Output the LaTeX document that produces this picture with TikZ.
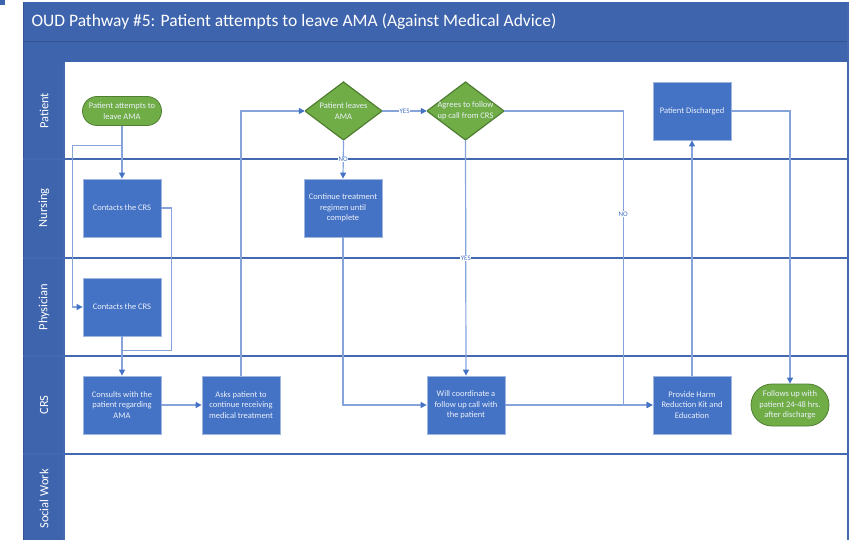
\documentclass[tikz,border=0pt]{standalone}
\usepackage{fontspec}
\setmainfont{Carlito}
\usetikzlibrary{arrows.meta,calc}

\definecolor{bandblue}{RGB}{62,100,173}
\definecolor{bandline}{RGB}{52,84,150}
\definecolor{laneline}{RGB}{68,105,176}
\definecolor{boxblue}{RGB}{68,114,196}
\definecolor{boxedge}{RGB}{160,182,222}
\definecolor{greenfill}{RGB}{112,173,71}
\definecolor{greenedge}{RGB}{80,126,50}
\definecolor{connblue}{RGB}{134,163,219}
\definecolor{tipblue}{RGB}{68,114,196}
\definecolor{boxtext}{RGB}{236,241,250}

\tikzset{
  boxtxt/.style={font=\fontsize{8.5}{10.6}\selectfont, text=boxtext, align=center},
  procbox/.style={boxtxt, draw=boxedge, line width=0.8pt, fill=boxblue,
    minimum width=78pt, minimum height=58pt, inner sep=1pt},
  termbox/.style={boxtxt, draw=greenedge, line width=0.8pt, fill=greenfill,
    rounded corners=#1, inner sep=1pt},
  decbox/.style={boxtxt, minimum width=77pt, minimum height=58pt, inner sep=0pt,
    path picture={
      \fill[greenfill] (path picture bounding box.north) -- (path picture bounding box.east)
        -- (path picture bounding box.south) -- (path picture bounding box.west) -- cycle;
      \draw[greenedge, line width=1.2pt] (path picture bounding box.north) -- (path picture bounding box.east)
        -- (path picture bounding box.south) -- (path picture bounding box.west) -- cycle;
    }},
  conn/.style={draw=connblue, line width=1.2pt,
    -{Triangle[length=6pt,width=6pt,color=tipblue]}},
  plainconn/.style={draw=connblue, line width=1.2pt},
  lbl/.style={font=\fontsize{7}{8}\selectfont, text=boxblue, fill=white, inner sep=0.6pt},
  lanename/.style={font=\fontsize{12.5}{13}\selectfont, text=white, rotate=90},
  laneedge/.style={draw=laneline, line width=1.4pt},
}

\begin{document}
\begin{tikzpicture}[x=1pt, y=-1pt]
\useasboundingbox (0,0) rectangle (854,540);

% small corner marker
\fill[bandblue] (0,0) rectangle (5,5);

% title band and sub band
\fill[bandblue] (23,2) rectangle (848,62);
\draw[bandline, line width=1pt] (23,42) -- (848,42);
\node[anchor=west, font=\fontsize{17.5}{20}\selectfont, text=white] (title) at (28,22)
  {OUD Pathway \#5: Patient attempts to leave AMA (Against Medical Advice)};

% lane header column
\fill[bandblue] (23,62) rectangle (64,540);

% lane frame
\draw[laneedge] (64,62) -- (64,540);
\draw[laneedge] (848,2) -- (848,540);
\draw[bandline, line width=1pt] (23,2) -- (23,540);
\foreach \yy in {159,258,356,454}
  \draw[laneedge] (23,\yy) -- (848,\yy);

% lane names
\node[lanename] (lanepat) at (44,111) {Patient};
\node[lanename] (lanenur) at (44,208) {Nursing};
\node[lanename] (lanephy) at (44,307) {Physician};
\node[lanename] (lanecrs) at (44,405) {CRS};
\node[lanename] (lanesw)  at (44,499) {Social Work};

% steps
\node[termbox=14.5pt, minimum width=79pt, minimum height=29pt] (start) at (122,111)
  {Patient attempts to\\leave AMA};
\node[procbox] (nurse) at (122,208) {Contacts the CRS};
\node[procbox] (phys)  at (122,307) {Contacts the CRS};
\node[procbox] (consult) at (122,405) {Consults with the\\patient regarding\\AMA};
\node[procbox] (asks) at (241,405) {Asks patient to\\continue receiving\\medical treatment};
\node[decbox] (leaves) at (343.5,111) {Patient leaves\\AMA};
\node[decbox] (agrees) at (465.5,111) {Agrees to follow\\up call from CRS};
\node[procbox] (cont) at (343,208) {Continue treatment\\regimen until\\complete};
\node[procbox] (coord) at (466,405) {Will coordinate a\\follow up call with\\the patient};
\node[procbox] (disch) at (692,111) {Patient Discharged};
\node[procbox] (harm) at (692,405) {Provide Harm\\Reduction Kit and\\Education};
\node[termbox=21pt, minimum width=78pt, minimum height=42pt] (follow) at (790,405)
  {Follows up with\\patient 24-48 hrs.\\after discharge};

% connectors
\draw[conn] (start.south) -- (nurse.north);
\draw[conn] ($(start.south)+(0,20)$) -| ($(phys.west)+(-10,0)$) -- (phys.west);
\draw[plainconn] (nurse.east) -- ++(10,0) |- ($(consult.north)+(0,-25)$);
\draw[conn] (phys.south) -- (consult.north);
\draw[conn] (consult.east) -- (asks.west);
\draw[conn] (asks.north) |- (leaves.west);
\draw[conn] (leaves.east) -- node[lbl] {YES} (agrees.west);
\draw[conn] (leaves.south) -- node[lbl] {NO} (cont.north);
\draw[conn] (agrees.south) -- node[lbl] {YES} (coord.north);
\coordinate (nobend) at ($(agrees.east)+(119,0)$);
\draw[conn] (agrees.east) -- (nobend) -- node[lbl, pos=0.35] {NO} (nobend |- harm.west) -- (harm.west);
\draw[conn] (cont.south) |- (coord.west);
\draw[conn] (coord.east) -- (harm.west);
\draw[conn] (harm.north) -- (disch.south);
\draw[conn] (disch.east) -| (follow.north);
\end{tikzpicture}
\end{document}
